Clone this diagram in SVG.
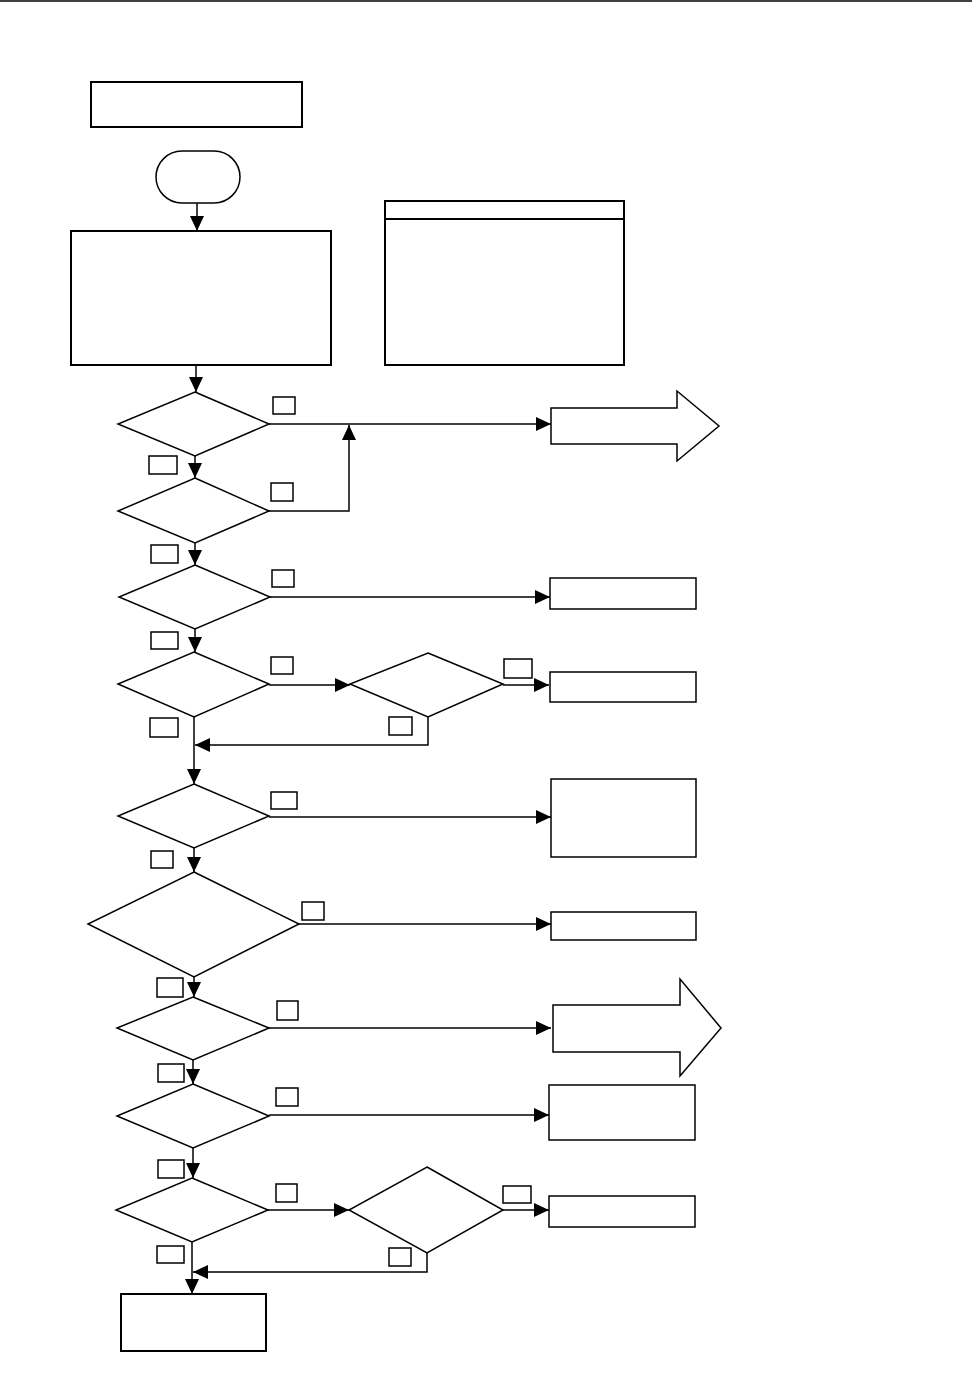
<svg xmlns="http://www.w3.org/2000/svg" width="972" height="1390" viewBox="0 0 972 1390">
<style>
.n{fill:#fff;stroke:#000;stroke-width:2}
.d{fill:#fff;stroke:#000;stroke-width:1.5}
.l{fill:#fff;stroke:#000;stroke-width:1.5}
.c{fill:none;stroke:#000;stroke-width:1.5}
</style>
<defs>
<marker id="ah" markerWidth="15" markerHeight="14" refX="15" refY="7" orient="auto" markerUnits="userSpaceOnUse">
<path d="M0,0 L15,7 L0,14 Z" fill="#000"/>
</marker>
</defs>
<rect width="972" height="1390" fill="#fff"/>
<line x1="0" y1="1" x2="972" y2="1" stroke="#000" stroke-width="1.5"/>

<g id="title"><rect class="n" x="91" y="82" width="211" height="45"/></g>
<g id="start"><rect class="d" x="156" y="151" width="84" height="52" rx="26" ry="26"/></g>
<g id="init"><rect class="n" x="71" y="231" width="260" height="134"/></g>
<g id="legend"><rect class="n" x="385" y="201" width="239" height="164"/><line x1="385" y1="219" x2="624" y2="219" stroke="#000" stroke-width="2"/></g>

<g id="d1"><polygon class="d" points="195,392 269,424 195,456 118,424"/></g>
<g id="d2"><polygon class="d" points="195,478 269,511 195,543 118,511"/></g>
<g id="d3"><polygon class="d" points="195,565 270,597 195,629 119,597"/></g>
<g id="d4"><polygon class="d" points="194,652 269,684 194,717 118,684"/></g>
<g id="d5"><polygon class="d" points="428,653 503,684 428,717 350,684"/></g>
<g id="d6"><polygon class="d" points="194,784 269,816 194,848 118,816"/></g>
<g id="d7"><polygon class="d" points="194,872 299,924 194,977 88,924"/></g>
<g id="d8"><polygon class="d" points="193,997 269,1028 193,1060 117,1028"/></g>
<g id="d9"><polygon class="d" points="193,1084 269,1116 193,1148 117,1116"/></g>
<g id="d10"><polygon class="d" points="192,1178 268,1210 192,1242 116,1210"/></g>
<g id="d11"><polygon class="d" points="427,1167 503,1210 427,1253 349,1210"/></g>

<g id="out1"><polygon class="d" points="551,408 677,408 677,391 719,426 677,461 677,444 551,444"/></g>
<g id="out2"><rect class="d" x="550" y="578" width="146" height="31"/></g>
<g id="out3"><rect class="d" x="550" y="672" width="146" height="30"/></g>
<g id="out4"><rect class="d" x="551" y="779" width="145" height="78"/></g>
<g id="out5"><rect class="d" x="551" y="912" width="145" height="28"/></g>
<g id="out6"><polygon class="d" points="553,1005 680,1005 680,979 721,1028 680,1076 680,1052 553,1052"/></g>
<g id="out7"><rect class="d" x="549" y="1085" width="146" height="55"/></g>
<g id="out8"><rect class="d" x="549" y="1196" width="146" height="31"/></g>
<g id="end"><rect class="n" x="121" y="1294" width="145" height="57"/></g>

<g id="labels">
<rect class="l" x="273" y="397" width="22" height="17"/>
<rect class="l" x="149" y="456" width="28" height="18"/>
<rect class="l" x="271" y="483" width="22" height="18"/>
<rect class="l" x="151" y="545" width="27" height="18"/>
<rect class="l" x="272" y="570" width="22" height="17"/>
<rect class="l" x="151" y="632" width="27" height="17"/>
<rect class="l" x="271" y="657" width="22" height="17"/>
<rect class="l" x="504" y="659" width="28" height="19"/>
<rect class="l" x="150" y="718" width="28" height="19"/>
<rect class="l" x="389" y="717" width="23" height="18"/>
<rect class="l" x="271" y="792" width="26" height="17"/>
<rect class="l" x="151" y="851" width="22" height="17"/>
<rect class="l" x="302" y="902" width="22" height="18"/>
<rect class="l" x="157" y="978" width="26" height="19"/>
<rect class="l" x="277" y="1001" width="21" height="19"/>
<rect class="l" x="158" y="1064" width="26" height="18"/>
<rect class="l" x="276" y="1088" width="22" height="18"/>
<rect class="l" x="158" y="1160" width="26" height="18"/>
<rect class="l" x="276" y="1184" width="21" height="18"/>
<rect class="l" x="503" y="1186" width="28" height="17"/>
<rect class="l" x="157" y="1246" width="27" height="17"/>
<rect class="l" x="389" y="1248" width="22" height="18"/>
</g>

<g id="connectors">
<line class="c" x1="197" y1="203" x2="197" y2="231" marker-end="url(#ah)"/>
<line class="c" x1="196" y1="365" x2="196" y2="392" marker-end="url(#ah)"/>
<line class="c" x1="269" y1="424" x2="551" y2="424" marker-end="url(#ah)"/>
<line class="c" x1="195" y1="456" x2="195" y2="478" marker-end="url(#ah)"/>
<polyline class="c" points="269,511 349,511 349,425" marker-end="url(#ah)"/>
<line class="c" x1="195" y1="543" x2="195" y2="565" marker-end="url(#ah)"/>
<line class="c" x1="270" y1="597" x2="550" y2="597" marker-end="url(#ah)"/>
<line class="c" x1="195" y1="629" x2="195" y2="652" marker-end="url(#ah)"/>
<line class="c" x1="269" y1="685" x2="350" y2="685" marker-end="url(#ah)"/>
<line class="c" x1="503" y1="685" x2="549" y2="685" marker-end="url(#ah)"/>
<polyline class="c" points="428,717 428,745 195,745" marker-end="url(#ah)"/>
<line class="c" x1="194" y1="717" x2="194" y2="784" marker-end="url(#ah)"/>
<line class="c" x1="269" y1="817" x2="551" y2="817" marker-end="url(#ah)"/>
<line class="c" x1="194" y1="848" x2="194" y2="872" marker-end="url(#ah)"/>
<line class="c" x1="299" y1="924" x2="551" y2="924" marker-end="url(#ah)"/>
<line class="c" x1="194" y1="977" x2="194" y2="997" marker-end="url(#ah)"/>
<line class="c" x1="269" y1="1028" x2="551" y2="1028" marker-end="url(#ah)"/>
<line class="c" x1="193" y1="1060" x2="193" y2="1084" marker-end="url(#ah)"/>
<line class="c" x1="269" y1="1115" x2="549" y2="1115" marker-end="url(#ah)"/>
<line class="c" x1="193" y1="1148" x2="193" y2="1178" marker-end="url(#ah)"/>
<line class="c" x1="268" y1="1210" x2="349" y2="1210" marker-end="url(#ah)"/>
<line class="c" x1="503" y1="1210" x2="549" y2="1210" marker-end="url(#ah)"/>
<polyline class="c" points="427,1253 427,1272 193,1272" marker-end="url(#ah)"/>
<line class="c" x1="192" y1="1242" x2="192" y2="1294" marker-end="url(#ah)"/>
</g>
</svg>
